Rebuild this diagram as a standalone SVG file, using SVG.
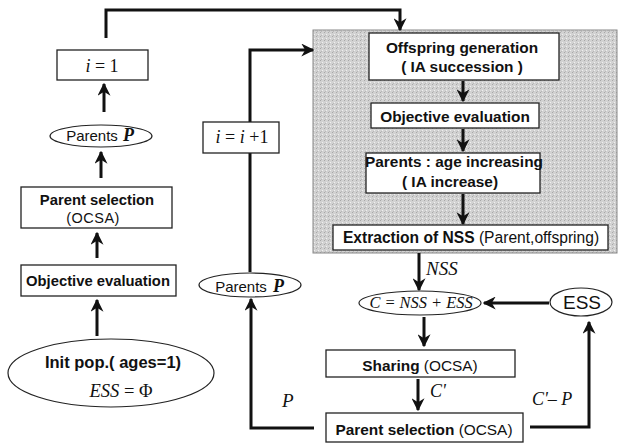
<svg xmlns="http://www.w3.org/2000/svg" width="618" height="448" viewBox="0 0 618 448">
<style>
  .box { fill: #ffffff; stroke: #222; stroke-width: 1.3; }
  .ell { fill: #ffffff; stroke: #222; stroke-width: 1.2; }
  .t { font-family: "Liberation Sans", Arial, sans-serif; fill: #111; text-anchor: middle; }
  .b { font-weight: bold; }
  .m { font-family: "Liberation Serif", "Times New Roman", serif; fill: #111; }
  .i { font-style: italic; }
  .ln { fill: none; stroke: #111; stroke-width: 3; }
</style>
<defs>
  <marker id="ah" viewBox="0 0 10 10" refX="9" refY="5" markerWidth="13" markerHeight="13" markerUnits="userSpaceOnUse" orient="auto">
    <path d="M0,0 L10,5 L0,10 L3,5 z" fill="#111"/>
  </marker>
  <pattern id="dots" width="4" height="4" patternUnits="userSpaceOnUse">
    <rect width="4" height="4" fill="#d2d2d2"/>
    <rect x="0" y="0" width="1" height="1" fill="#a8a8a8"/>
    <rect x="2" y="2" width="1" height="1" fill="#f0f0f0"/>
    <rect x="1" y="3" width="1" height="1" fill="#b8b8b8"/>
  </pattern>
</defs>

<g id="gray-region">
  <rect x="313" y="30" width="304" height="223" fill="url(#dots)" stroke="#888" stroke-width="1"/>
</g>

<g id="connectors">
  <line class="ln" x1="97" y1="336" x2="97" y2="300" marker-end="url(#ah)"/>
  <line class="ln" x1="97" y1="258" x2="97" y2="233" marker-end="url(#ah)"/>
  <line class="ln" x1="101" y1="178" x2="101" y2="152" marker-end="url(#ah)"/>
  <line class="ln" x1="104" y1="112" x2="104" y2="84" marker-end="url(#ah)"/>
  <path class="ln" d="M106,38 V10 H400 V30" marker-end="url(#ah)"/>
  <path class="ln" d="M314,428 H251 V299" marker-end="url(#ah)"/>
  <path class="ln" d="M250,272 V50 H313" marker-end="url(#ah)"/>
  <line class="ln" x1="463" y1="81" x2="463" y2="101" marker-end="url(#ah)"/>
  <line class="ln" x1="463" y1="129" x2="463" y2="151" marker-end="url(#ah)"/>
  <line class="ln" x1="463" y1="194" x2="463" y2="224" marker-end="url(#ah)"/>
  <line class="ln" x1="419" y1="253" x2="419" y2="290" marker-end="url(#ah)"/>
  <line class="ln" x1="549" y1="303" x2="484" y2="303" marker-end="url(#ah)"/>
  <line class="ln" x1="424" y1="317" x2="424" y2="346" marker-end="url(#ah)"/>
  <line class="ln" x1="418" y1="379" x2="418" y2="410" marker-end="url(#ah)"/>
  <path class="ln" d="M530,427 H589 V322" marker-end="url(#ah)"/>
  <text class="m i" x="426" y="275" font-size="19">NSS</text>
  <text class="m i" x="430" y="397" font-size="18">C'</text>
  <text class="m i" x="282" y="407" font-size="19">P</text>
  <text class="m i" x="532" y="405" font-size="18">C'– P</text>
</g>

<g id="init">
  <ellipse class="ell" cx="111" cy="373" rx="103" ry="34"/>
  <text class="t b" x="113" y="368" font-size="16.5">Init pop.( ages=1)</text>
  <text class="m" x="121" y="397" font-size="18.5" text-anchor="middle"><tspan class="i">ESS</tspan> = Φ</text>
</g>

<g id="objective-left">
  <rect class="box" x="21" y="265" width="155" height="31"/>
  <text class="t b" x="98" y="286" font-size="14.8">Objective evaluation</text>
</g>

<g id="parent-selection-left">
  <rect class="box" x="21" y="187" width="151" height="41"/>
  <text class="t b" x="97" y="205" font-size="14.8">Parent selection</text>
  <text class="t" x="93" y="223" font-size="14.5" letter-spacing="0.5">(OCSA)</text>
</g>

<g id="parents-left">
  <ellipse class="ell" cx="101" cy="136" rx="51" ry="11"/>
  <text class="t" x="92" y="141" font-size="15">Parents</text>
  <text class="m i b" x="123" y="141" font-size="18">P</text>
</g>

<g id="i-one">
  <rect class="box" x="57" y="50" width="91" height="30"/>
  <text class="m" x="102" y="72" font-size="18" text-anchor="middle"><tspan class="i">i</tspan> = 1</text>
</g>

<g id="i-inc">
  <rect class="box" x="203" y="122" width="76" height="31"/>
  <text class="m" x="242" y="143" font-size="18" text-anchor="middle"><tspan class="i">i</tspan> = <tspan class="i">i</tspan> +1</text>
</g>

<g id="parents-right">
  <ellipse class="ell" cx="250" cy="285" rx="51" ry="12"/>
  <text class="t" x="241" y="292" font-size="15">Parents</text>
  <text class="m i b" x="273" y="292" font-size="18">P</text>
</g>

<g id="offspring">
  <rect class="box" x="369" y="33" width="190" height="47"/>
  <text class="t b" x="462" y="53" font-size="15.4">Offspring generation</text>
  <text class="t b" x="462" y="72" font-size="15.4">( IA succession )</text>
</g>

<g id="objective-right">
  <rect class="box" x="371" y="103" width="168" height="25"/>
  <text class="t b" x="455" y="122" font-size="15.4">Objective evaluation</text>
</g>

<g id="age-increase">
  <rect class="box" x="366" y="153" width="174" height="40"/>
  <text class="t b" x="454" y="167" font-size="15.4">Parents : age increasing</text>
  <text class="t b" x="450" y="187" font-size="15.4">( IA increase)</text>
</g>

<g id="extraction">
  <rect class="box" x="333" y="225" width="275" height="25"/>
  <text class="t" x="471" y="243" font-size="15.6"><tspan class="b">Extraction of NSS </tspan><tspan>(Parent,offspring)</tspan></text>
</g>

<g id="c-union">
  <ellipse class="ell" cx="420" cy="303" rx="61" ry="12"/>
  <text class="m i" x="421" y="308" font-size="16.4" text-anchor="middle">C = NSS + ESS</text>
</g>

<g id="ess">
  <ellipse class="ell" cx="581" cy="302" rx="31" ry="14"/>
  <text class="t" x="582" y="309" font-size="19">ESS</text>
</g>

<g id="sharing">
  <rect class="box" x="326" y="350" width="189" height="27"/>
  <text class="t" x="420" y="371" font-size="15.4"><tspan class="b">Sharing </tspan><tspan>(OCSA)</tspan></text>
</g>

<g id="parent-selection-right">
  <rect class="box" x="326" y="413" width="197" height="29"/>
  <text class="t" x="424" y="435" font-size="15.4"><tspan class="b">Parent selection </tspan><tspan>(OCSA)</tspan></text>
</g>
</svg>
